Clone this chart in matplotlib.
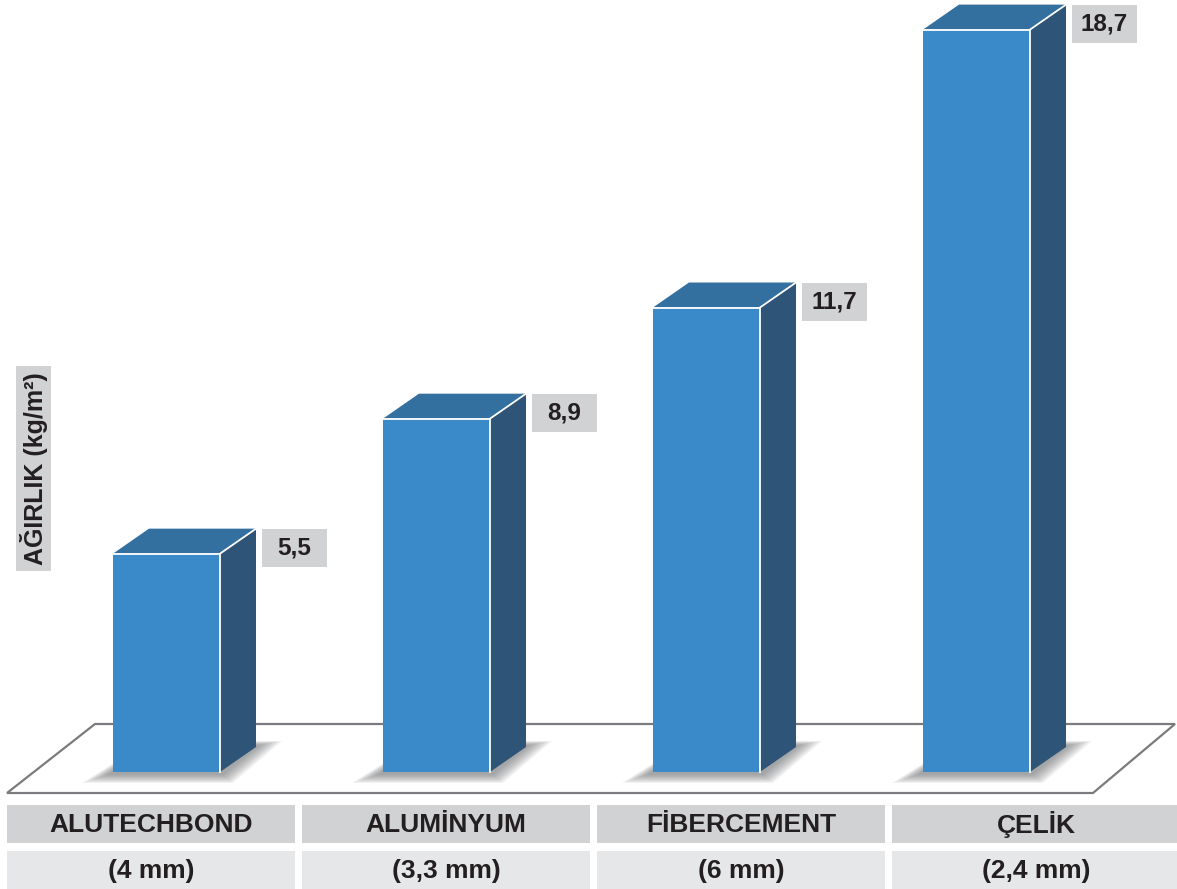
import matplotlib
matplotlib.use("Agg")
import matplotlib.pyplot as plt
from matplotlib.patches import Polygon, Rectangle
import numpy as np

# ---- data ----
categories = ["ALUTECHBOND", "ALUMİNYUM", "FİBERCEMENT", "ÇELİK"]
thickness = ["(4 mm)", "(3,3 mm)", "(6 mm)", "(2,4 mm)"]
values = [5.5, 8.9, 11.7, 18.7]
ylabel = "AĞIRLIK (kg/m²)"

FONT = ["Liberation Sans", "DejaVu Sans"]
plt.rcParams['font.family'] = FONT

W, H = 1177, 889
fig = plt.figure(figsize=(W / 100, H / 100), dpi=100)
fig.patch.set_facecolor("white")

# ---- background (pixel coordinates) ----
bg = fig.add_axes([0, 0, 1, 1])
bg.set_xlim(0, W)
bg.set_ylim(H, 0)
bg.axis("off")

floor = Polygon([(95, 724), (1175, 724), (1093, 793), (7, 793)], closed=True,
                facecolor="white", edgecolor="#7a7b7e", linewidth=1.6, zorder=1)
bg.add_patch(floor)

# table rows
col_x0, col_w, col_gap = 7, 288, 7
row1 = (805, 843)
row2 = (851, 889)
for i, (c, t) in enumerate(zip(categories, thickness)):
    x0 = col_x0 + i * (col_w + col_gap)
    bg.add_patch(Rectangle((x0, row1[0]), col_w, row1[1] - row1[0],
                           facecolor="#d1d2d4", edgecolor="none", zorder=1))
    bg.add_patch(Rectangle((x0, row2[0]), col_w, row2[1] - row2[0] + 5,
                           facecolor="#e6e7e8", edgecolor="none", zorder=1))
    bg.text(x0 + col_w / 2, (row1[0] + row1[1]) / 2 + 1, c, ha="center", va="center",
            fontsize=19, fontweight="bold", color="#231f20", zorder=2)
    bg.text(x0 + col_w / 2, (row2[0] + row2[1]) / 2 + 1, t, ha="center", va="center",
            fontsize=19, fontweight="bold", color="#231f20", zorder=2)

# y label box
bg.add_patch(Rectangle((16, 366), 35, 205, facecolor="#d1d2d4", edgecolor="none", zorder=1))
bg.text(34, 468.5, ylabel, rotation=90, ha="center", va="center",
        fontsize=18, fontweight="bold", color="#231f20", zorder=2)

# ---- bars (data coordinates) ----
ax = fig.add_axes([0, 0, 1, 1])
ax.patch.set_alpha(0)
ax.axis("off")
px_per_unit = 39.7
base_px = 772
ax.set_ylim(-(H - base_px) / px_per_unit, base_px / px_per_unit)
spacing = 270.0
first_center = 166.5
ax.set_xlim(-first_center / spacing, (W - first_center) / spacing)

x = np.arange(len(values))
w = 107 / spacing
dx = 36 / spacing
dy = 25 / px_per_unit

front_c = "#3a89c9"
side_c = "#2e5478"
top_c = "#336f9f"

# soft shadows on floor
ux = 1 / spacing
uy = 1 / px_per_unit
for xi in x:
    L, R = xi - w / 2, xi + w / 2
    n = 10
    for k in range(n):
        g = k / (n - 1)  # 0 outer -> 1 inner
        left = L - (31 - 25 * g) * ux
        bot = -(11 - 8 * g) * uy
        rb = R + (13 - 10 * g) * ux
        tr = R + dx + (26 - 22 * g) * ux
        ty = dy + (6 - 4 * g) * uy
        poly = [(left, bot), (rb, bot), (tr, ty), (L + dx, ty)]
        ax.add_patch(Polygon(poly, closed=True, facecolor="#58595b",
                             edgecolor="none", alpha=0.07, zorder=2))

ax.bar(x, values, width=w, color=front_c, edgecolor="none", zorder=4)

for xi, v in zip(x, values):
    L, R = xi - w / 2, xi + w / 2
    side = Polygon([(R, 0), (R + dx, dy), (R + dx, v + dy), (R, v)], closed=True,
                   facecolor=side_c, edgecolor="none", zorder=4)
    top = Polygon([(L, v), (L + dx, v + dy), (R + dx, v + dy), (R, v)], closed=True,
                  facecolor=top_c, edgecolor="none", zorder=4)
    ax.add_patch(side)
    ax.add_patch(top)
    # white highlight edges
    ax.plot([L, R, R], [v, v, 0], color="white", lw=1.3, zorder=5, solid_joinstyle="miter")
    ax.plot([R, R + dx], [v, v + dy], color="white", lw=1.3, zorder=5)
    # value label box
    bx = R + dx + 6 / spacing
    bw = 65 / spacing
    bh = 38 / px_per_unit
    ax.add_patch(Rectangle((bx, v + dy - bh), bw, bh, facecolor="#d1d2d4",
                           edgecolor="none", zorder=4))
    ax.text(bx + bw / 2, v + dy - bh / 2, f"{v:.1f}".replace(".", ","),
            ha="center", va="center", fontsize=17.5, fontweight="bold",
            color="#231f20", zorder=6)

fig.savefig("out.png", dpi=100, facecolor="white")
